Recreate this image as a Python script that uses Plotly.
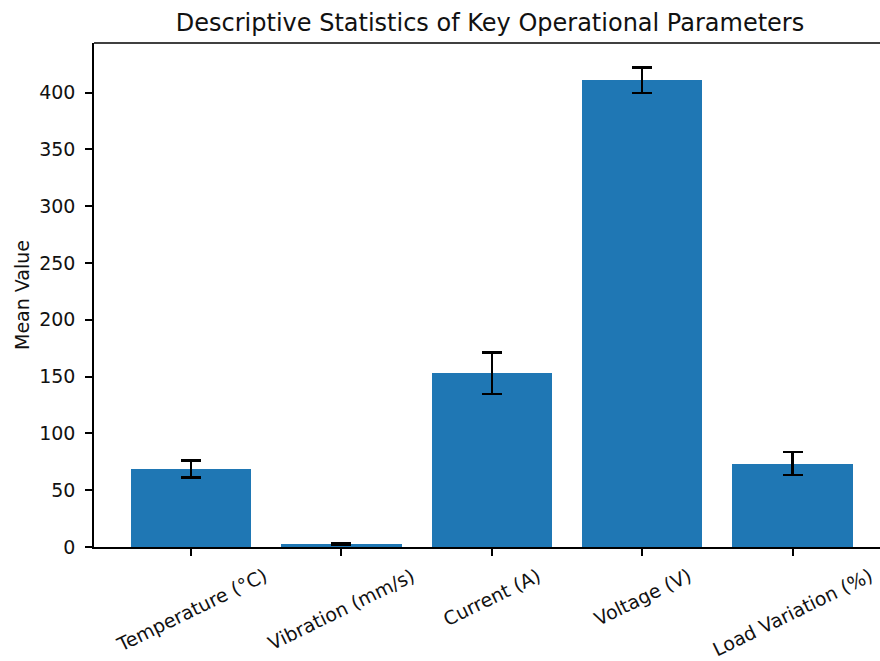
import plotly.graph_objects as go

categories = ["Temperature (°C)", "Vibration (mm/s)", "Current (A)", "Voltage (V)", "Load Variation (%)"]
means = [68.5, 2.5, 153.0, 411.0, 73.5]
stds = [7.5, 0.5, 18.2, 11.3, 10.0]
yticks = [0, 50, 100, 150, 200, 250, 300, 350, 400]

W, H = 880, 661
L, R, T, B = 94, 0, 43, 114
xpos = list(range(len(categories)))

fig = go.Figure()
fig.add_trace(go.Bar(
    x=xpos, y=means, width=0.8,
    marker=dict(color="#1f77b4", line=dict(width=0)),
    error_y=dict(type="data", array=stds, visible=True, color="black",
                 thickness=2.5, width=10),
    showlegend=False,
))

font = "DejaVu Sans"
fs = 19
txt = "#111111"
fig.update_layout(
    width=W, height=H,
    margin=dict(l=L, r=R, t=T, b=B, pad=0),
    plot_bgcolor="white", paper_bgcolor="white",
    font=dict(family=font, size=fs, color=txt),
    bargap=0,
    xaxis=dict(range=[-0.645, 4.581], tickvals=xpos, ticktext=[""] * 5,
               showgrid=False, zeroline=False, showline=True, linecolor="black",
               linewidth=1.5, ticks="outside", ticklen=7, tickwidth=1.5,
               tickcolor="black", mirror=False),
    yaxis=dict(range=[0, 443.7], tickvals=yticks, showgrid=False, zeroline=False,
               showline=True, linecolor="black", linewidth=1.5, ticks="outside",
               ticklen=7, tickwidth=1.5, tickcolor="black",
               tickfont=dict(family=font, size=fs, color=txt),
               ticklabelstandoff=6),
    title=dict(text="Descriptive Statistics of Key Operational Parameters",
               x=(490 - L) / (W - L - R), xref="paper", xanchor="center",
               y=1 - 23 / H, yref="container", yanchor="middle",
               font=dict(family=font, size=24, color=txt)),
)

# top spine
fig.add_shape(type="line", xref="paper", yref="paper", x0=0, x1=1, y0=1, y1=1,
              line=dict(color="black", width=1.5))

# rotated category labels
for i, c in enumerate(categories):
    fig.add_annotation(x=i, y=0, xref="x", yref="paper", text=c, showarrow=False,
                       textangle=-26, xanchor="center", yanchor="top", yshift=-14,
                       font=dict(family=font, size=fs, color=txt))

fig.add_annotation(x=(22 - L) / (W - L - R), y=0.5, xref="paper", yref="paper",
                   text="Mean Value", showarrow=False, textangle=-90,
                   xanchor="center", yanchor="middle",
                   font=dict(family=font, size=fs, color=txt))

fig.write_html("out.html")
